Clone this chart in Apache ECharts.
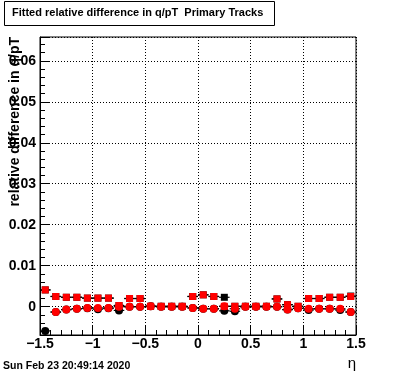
<!DOCTYPE html>
<html>
<head>
<meta charset="utf-8">
<script src="https://cdn.jsdelivr.net/npm/echarts@6/dist/echarts.min.js"></script>
<style>
  html, body { margin: 0; padding: 0; background: #fff; }
  #chart { width: 396px; height: 372px; }
</style>
</head>
<body>
<div id="chart"></div>
<script>
// bin centres in eta
const etaCenters = [-1.45, -1.35, -1.25, -1.15, -1.05, -0.95, -0.85, -0.75, -0.65, -0.55,
  -0.45, -0.35, -0.25, -0.15, -0.05, 0.05, 0.15, 0.25, 0.35, 0.45,
  0.55, 0.65, 0.75, 0.85, 0.95, 1.05, 1.15, 1.25, 1.35, 1.45]

// black squares (mostly hidden under the red ones)
const blackSquares = [0.0041, 0.0025, 0.0023, 0.0023, 0.0021, 0.0021, 0.0021, 0.0003, 0.0020, 0.0020,
  0.0001, 0.0001, 0.0001, 0.0001, 0.0025, 0.0029, 0.0025, 0.0023, 0.0001, 0.0001,
  0.0001, 0.0001, 0.0019, 0.0005, 0.0001, 0.0020, 0.0020, 0.0023, 0.0023, 0.0026]
const redSquares = [0.0041, 0.0025, 0.0023, 0.0023, 0.0021, 0.0021, 0.0021, 0.0003, 0.0020, 0.0020,
  0.0001, 0.0001, 0.0001, 0.0001, 0.0025, 0.0029, 0.0025, 0.0001, 0.0001, 0.0001,
  0.0001, 0.0001, 0.0019, 0.0005, 0.0001, 0.0020, 0.0020, 0.0023, 0.0023, 0.0025]
const blackCircles = [-0.0059, -0.0013, -0.0007, -0.0005, -0.0004, -0.0006, -0.0004, -0.0009, 0.0000, 0.0000,
  0.0001, 0.0000, 0.0000, 0.0000, -0.0003, -0.0005, -0.0005, -0.0010, -0.0011, 0.0000,
  0.0000, 0.0000, 0.0000, -0.0007, -0.0004, -0.0008, -0.0005, -0.0005, -0.0008, -0.0013]
const redCircles = [null, -0.0013, -0.0007, -0.0005, -0.0003, -0.0003, -0.0003, 0.0000, 0.0000, 0.0000,
  0.0001, 0.0000, 0.0000, 0.0000, -0.0003, -0.0005, -0.0005, 0.0001, -0.0005, 0.0000,
  0.0000, 0.0000, 0.0000, -0.0007, -0.0004, -0.0005, -0.0005, -0.0005, -0.0005, -0.0013]

const binHalfWidth = 0.05
const titleText = 'Fitted relative difference in q/pT  Primary Tracks'
const yTitle = 'relative difference in q/pT'
const dateText = 'Sun Feb 23 20:49:14 2020'

const pts = (vals) => etaCenters.map((x, i) => [x, vals[i]]).filter(p => p[1] !== null)

const errData = [].concat(pts(blackSquares), pts(redSquares), pts(blackCircles), pts(redCircles))

const fam = 'Liberation Sans, Arial, Helvetica, sans-serif'

const fmtNum = (v) => {
  if (Math.abs(v) < 1e-9) return '0'
  const s = String(parseFloat(Math.abs(v).toFixed(4)))
  return (v < 0 ? '\u2212' : '') + s
}

const chart = echarts.init(document.getElementById('chart'), null, { renderer: 'canvas' })

chart.setOption({
  animation: false,
  backgroundColor: '#fff',
  grid: {
    left: 40, right: 40, top: 37, bottom: 37,
    show: true, borderColor: '#000', borderWidth: 1, backgroundColor: 'transparent'
  },
  xAxis: {
    type: 'value',
    min: -1.5,
    max: 1.5,
    interval: 0.5,
    axisLine: { onZero: false, lineStyle: { color: '#000', width: 1 } },
    axisTick: { inside: true, length: 9, lineStyle: { color: '#000' } },
    minorTick: { show: true, splitNumber: 5, length: 5, lineStyle: { color: '#000' } },
    splitLine: { show: true, lineStyle: { color: '#000', type: [1, 2], width: 1 } },
    axisLabel: {
      color: '#000', fontSize: 14, fontWeight: 'bold', fontFamily: fam, margin: 2,
      formatter: fmtNum
    }
  },
  yAxis: {
    type: 'value',
    min: -0.0069,
    max: 0.0658,
    splitNumber: 7,
    axisLine: { show: true, onZero: false, lineStyle: { color: '#000', width: 1 } },
    axisTick: { show: true, inside: true, length: 9, lineStyle: { color: '#000' } },
    minorTick: { show: true, splitNumber: 5, length: 5, lineStyle: { color: '#000' } },
    splitLine: { show: true, lineStyle: { color: '#000', type: [1, 2], width: 1 } },
    axisLabel: {
      color: '#000', fontSize: 14, fontWeight: 'bold', fontFamily: fam, margin: 4,
      showMinLabel: false, showMaxLabel: false,
      formatter: fmtNum
    }
  },
  graphic: [
    {
      type: 'rect', left: 4, top: 1, z: 10,
      shape: { width: 270, height: 24 },
      style: { fill: '#fff', stroke: '#000', lineWidth: 1 }
    },
    {
      type: 'text', left: 12, top: 7, z: 11,
      style: { text: titleText, font: 'bold 11px ' + fam, fill: '#000' }
    },
    {
      type: 'text', x: 15.5, y: 37, rotation: Math.PI / 2, z: 11,
      style: { text: yTitle, font: 'bold 14px ' + fam, fill: '#000', align: 'right', verticalAlign: 'middle' }
    },
    {
      type: 'text', x: 356, y: 364, z: 11,
      style: { text: '\u03B7', font: '15px ' + fam, fill: '#000', align: 'right', verticalAlign: 'middle' }
    },
    {
      type: 'text', x: 3, y: 366, z: 11,
      style: { text: dateText, font: 'bold 10.5px ' + fam, fill: '#000', align: 'left', verticalAlign: 'middle' }
    }
  ],
  series: [
    {
      // horizontal bin-width error bars
      type: 'custom',
      z: 1,
      data: errData,
      renderItem: (params, api) => {
        const x = api.value(0)
        const y = api.value(1)
        const p1 = api.coord([x - binHalfWidth, y])
        const p2 = api.coord([x + binHalfWidth, y])
        return {
          type: 'line',
          shape: { x1: p1[0], y1: p1[1], x2: p2[0], y2: p2[1] },
          style: { stroke: '#000', lineWidth: 1.2 }
        }
      }
    },
    {
      type: 'scatter', z: 2, symbol: 'rect', symbolSize: 7,
      itemStyle: { color: '#000', opacity: 1 }, data: pts(blackSquares)
    },
    {
      type: 'scatter', z: 2, symbol: 'circle', symbolSize: 8,
      itemStyle: { color: '#000', opacity: 1 }, data: pts(blackCircles)
    },
    {
      type: 'scatter', z: 3, symbol: 'rect', symbolSize: 7,
      itemStyle: { color: '#ff0000', opacity: 1 }, data: pts(redSquares)
    },
    {
      type: 'scatter', z: 3, symbol: 'circle', symbolSize: 8,
      itemStyle: { color: '#ff0000', opacity: 1 }, data: pts(redCircles)
    }
  ]
})
</script>
</body>
</html>
